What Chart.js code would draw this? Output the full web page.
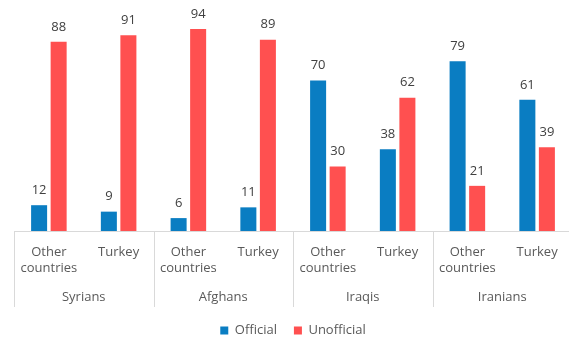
<!DOCTYPE html>
<html>
<head>
<meta charset="utf-8">
<script src="https://cdn.jsdelivr.net/npm/chart.js@4/dist/chart.umd.min.js"></script>
<style>
  html, body { margin: 0; padding: 0; background: #ffffff; overflow: hidden; }
  #wrap { width: 569px; height: 338px; overflow: hidden; }
  canvas { display: block; }
</style>
</head>
<body>
<div id="wrap"><canvas id="chart" width="576" height="347"></canvas></div>
<script>
// Nationality groups and the two destinations within each group
const groups = ['Syrians', 'Afghans', 'Iraqis', 'Iranians'];
const destinations = [['Other', 'countries'], 'Turkey'];

// Share (%) of each route type, in the order group × destination
const official   = [12, 9, 6, 11, 70, 38, 79, 61];
const unofficial = [88, 91, 94, 89, 30, 62, 21, 39];

const seriesNames = ['Official', 'Unofficial'];
const seriesColors = ['#0A7DC2', '#FF5050'];

const categories = [];
groups.forEach(() => destinations.forEach(d => categories.push(d)));

const FONT = "'Open Sans', 'Liberation Sans', sans-serif";
const LINE = '#D9D9D9';

// Value labels above each bar
const valueLabels = {
  id: 'valueLabels',
  afterDatasetsDraw(chart) {
    const ctx = chart.ctx;
    ctx.save();
    ctx.font = '13px ' + FONT;
    ctx.fillStyle = '#404040';
    ctx.textAlign = 'center';
    ctx.textBaseline = 'middle';
    chart.data.datasets.forEach((ds, i) => {
      chart.getDatasetMeta(i).data.forEach((bar, j) => {
        ctx.fillText(String(ds.data[j]), bar.x, bar.y - 15);
      });
    });
    ctx.restore();
  }
};

// Axis line, group separators and group names under the destination labels
const groupAxis = {
  id: 'groupAxis',
  afterDraw(chart) {
    const ctx = chart.ctx;
    const area = chart.chartArea;
    const x = chart.scales.x;
    const per = destinations.length;
    const half = (x.getPixelForValue(1) - x.getPixelForValue(0)) / 2;
    ctx.save();
    ctx.strokeStyle = LINE;
    ctx.lineWidth = 1;
    ctx.beginPath();
    ctx.moveTo(area.left, Math.round(area.bottom) + 0.5);
    ctx.lineTo(area.right, Math.round(area.bottom) + 0.5);
    for (let g = 0; g <= groups.length; g++) {
      let px;
      if (g === groups.length) px = x.getPixelForValue(categories.length - 1) + half;
      else px = x.getPixelForValue(g * per) - half;
      px = Math.round(px) + 0.5;
      ctx.moveTo(px, area.bottom);
      ctx.lineTo(px, area.bottom + 76);
    }
    ctx.stroke();
    ctx.font = '13px ' + FONT;
    ctx.fillStyle = '#595959';
    ctx.textAlign = 'center';
    ctx.textBaseline = 'middle';
    groups.forEach((name, g) => {
      const a = x.getPixelForValue(g * per);
      const b = x.getPixelForValue(g * per + per - 1);
      ctx.fillText(name, (a + b) / 2, area.bottom + 66);
    });
    ctx.restore();
  }
};

new Chart(document.getElementById('chart'), {
  type: 'bar',
  data: {
    labels: categories,
    datasets: [
      { label: seriesNames[0], data: official, backgroundColor: seriesColors[0] },
      { label: seriesNames[1], data: unofficial, backgroundColor: seriesColors[1] }
    ]
  },
  options: {
    responsive: false,
    animation: false,
    devicePixelRatio: 1,
    categoryPercentage: 0.56,
    barPercentage: 0.82,
    layout: { padding: { top: 16, left: 14, right: 4, bottom: 0 } },
    scales: {
      x: {
        grid: { display: false },
        border: { display: false },
        ticks: {
          color: '#595959',
          font: { family: FONT, size: 13, lineHeight: 1.25 },
          padding: 5,
          maxRotation: 0,
          autoSkip: false
        },
        afterFit(scale) { scale.height = 76; }
      },
      y: {
        display: false,
        min: 0,
        max: 100
      }
    },
    plugins: {
      legend: {
        position: 'bottom',
        labels: {
          color: '#595959',
          font: { family: FONT, size: 13 },
          boxWidth: 8,
          boxHeight: 8,
          padding: 17
        }
      },
      tooltip: { enabled: false }
    }
  },
  plugins: [valueLabels, groupAxis]
});
</script>
</body>
</html>
